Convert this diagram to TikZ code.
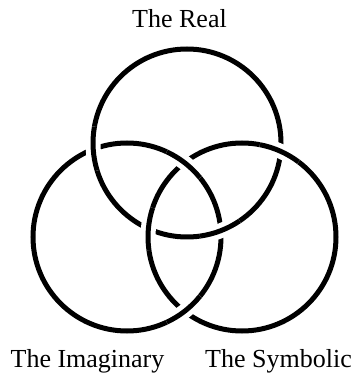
\documentclass[tikz,border=0pt]{standalone}
\usepackage{fontspec}
\setmainfont{Liberation Serif}
\usetikzlibrary{positioning}

\begin{document}
\begin{tikzpicture}[
    x=1pt,y=1pt,
    ring/.style={line width=5pt},
    over/.style={ring,preaction={draw,white,line width=15pt}},
    every node/.style={font=\fontsize{26}{30}\selectfont,inner sep=0pt,anchor=base}
]
\useasboundingbox (0,0) rectangle (352,375);

\coordinate (cReal) at (187,232);
\coordinate (cImag) at (127,138);
\coordinate (cSymb) at (242,138);

\draw[ring] (cReal) circle[radius=94];
\draw[ring] (cImag) circle[radius=94];
\draw[ring] (cSymb) circle[radius=94];

% real over imaginary
\draw[over] ([shift={(170:94)}]cReal) arc[start angle=170,end angle=197,radius=94];
\draw[over] ([shift={(278:94)}]cReal) arc[start angle=278,end angle=304,radius=94];

% symbolic over real
\draw[over] ([shift={(53:94)}]cSymb) arc[start angle=53,end angle=79,radius=94];
\draw[over] ([shift={(162:94)}]cSymb) arc[start angle=162,end angle=188,radius=94];

% imaginary over symbolic
\draw[over] ([shift={(39:94)}]cImag) arc[start angle=39,end angle=65,radius=94];
\draw[over] ([shift={(-65:94)}]cImag) arc[start angle=-65,end angle=-39,radius=94];

\node (real) at (179.5,347) {The Real};
\node (imag) at (87.5,8) {The Imaginary};
\node (symb) at (278.5,8) {The Symbolic};

\end{tikzpicture}
\end{document}
